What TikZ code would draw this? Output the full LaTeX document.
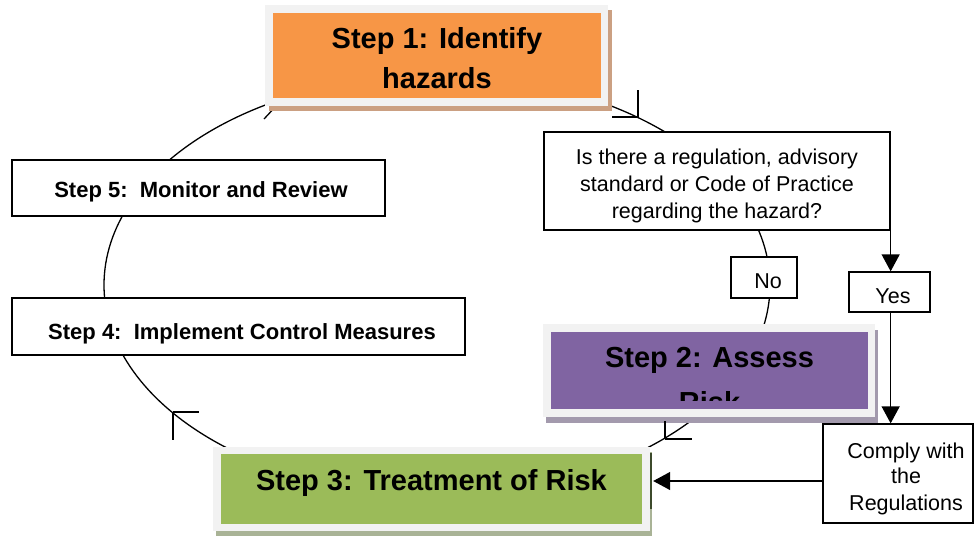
\documentclass[tikz,border=0pt]{standalone}
\usepackage{fontspec}
\setmainfont{Liberation Sans}
\usetikzlibrary{arrows.meta}

\definecolor{framegray}{HTML}{F2F2F2}
\definecolor{stepone}{HTML}{F79646}
\definecolor{steponeshade}{HTML}{CBA082}
\definecolor{steptwo}{HTML}{8064A2}
\definecolor{steptwoshade}{HTML}{A39AAD}
\definecolor{stepthree}{HTML}{9BBB59}
\definecolor{stepthreeshade}{HTML}{A9B396}
\definecolor{stepthreeedge}{HTML}{3C4A2B}

\begin{document}
\begin{tikzpicture}[x=1pt,y=-1pt,
  box/.style={draw=black,line width=1.3pt,fill=white,rectangle,inner sep=0pt},
  fillbox/.style={rectangle,inner sep=0pt,draw=none},
  bigtext/.style={font=\fontsize{29}{35}\selectfont\bfseries,anchor=base,inner sep=0pt},
  midtext/.style={font=\fontsize{22}{26}\selectfont\bfseries,anchor=base,inner sep=0pt},
  smalltext/.style={font=\fontsize{21.5}{27}\selectfont,anchor=base,inner sep=0pt},
  cyc/.style={line width=1.3pt},
  arr/.style={line width=1.3pt,-{Triangle[width=18pt,length=17pt]}},
]
\useasboundingbox (0,0) rectangle (974,536);
\fill[white] (0,0) rectangle (974,536);

% the risk management cycle
\coordinate (cc) at (437,285);
\draw[cyc] (cc) ellipse [x radius=333pt, y radius=210pt];
\coordinate (k4) at (278,104);
\draw[cyc] (k4) -- ++(-14,15);

% Step 1
\fill[steponeshade] (269,10) rectangle (612,111);
\node[fillbox,fill=framegray,minimum width=343pt,minimum height=101pt] (s1f) at (436.5,55.5) {};
\node[fillbox,fill=stepone,minimum width=328pt,minimum height=85pt] (s1) at (437,55.5) {};
\node[bigtext] (s1a) at (437,48) {Step 1: Identify};
\node[bigtext] (s1b) at (437,88) {hazards};

% Step 2
\fill[steptwoshade] (546,330) rectangle (878,423);
\node[fillbox,fill=framegray,minimum width=332pt,minimum height=93pt] (s2f) at (709,370.5) {};
\node[fillbox,fill=steptwo,minimum width=317pt,minimum height=77pt] (s2) at (709.5,370.5) {};
\begin{scope}
  \clip (551,332) rectangle (868,400);
  \node[bigtext] (s2a) at (709.5,367) {Step 2: Assess};
  \node[bigtext] (s2b) at (709.5,412) {Risk};
\end{scope}

% Step 3
\fill[stepthreeshade] (216,452) rectangle (652,536);
\node[fillbox,fill=framegray,minimum width=437pt,minimum height=84pt] (s3f) at (431.5,489) {};
\node[fillbox,fill=stepthree,minimum width=421pt,minimum height=70pt] (s3) at (431.5,489) {};
\draw[line width=1.5pt,stepthreeedge] (651,453) -- (651,509);
\node[bigtext] (s3a) at (431.5,490) {Step 3: Treatment of Risk};

% Steps 4 and 5
\node[box,minimum width=373pt,minimum height=56pt] (s5) at (198.5,188) {};
\node[midtext] (s5a) at (201,197) {Step 5:\ \ Monitor and Review};
\node[box,minimum width=453pt,minimum height=57pt] (s4) at (238.5,326.5) {};
\node[midtext] (s4a) at (242,339) {Step 4:\ \ Implement Control Measures};

% question and answers
\node[box,minimum width=346pt,minimum height=98pt] (q) at (717,181) {};
\node[smalltext] (qa) at (717,164) {Is there a regulation, advisory};
\node[smalltext] (qb) at (717,191) {standard or Code of Practice};
\node[smalltext] (qc) at (717,218) {regarding the hazard?};

\node[box,minimum width=66pt,minimum height=41pt] (no) at (764,277.5) {};
\node[smalltext] (noa) at (768,288) {No};
\node[box,minimum width=81pt,minimum height=40pt] (yes) at (889.5,292) {};
\node[smalltext] (yesa) at (893,303) {Yes};

\node[box,minimum width=150pt,minimum height=99pt] (comply) at (898,473.5) {};
\node[smalltext] (ca) at (906,458) {Comply with};
\node[smalltext] (cb) at (906,483) {the};
\node[smalltext] (cc2) at (906,510) {Regulations};

% connectors
\draw[arr] (q.east) -- (q.east |- yes.north);
\draw[arr] (yes.south -| q.east) -- (q.east |- comply.north);
\draw[arr] ([yshift=-7.5pt]comply.west) -- ([yshift=-7.5pt,xshift=3pt]comply.west -| s3f.east);

% arrow marks on the cycle
\coordinate (k1) at (638,117);
\draw[cyc] (k1) -- ++(0,-27) (k1) -- ++(-26,0);
\coordinate (k2) at (665,439);
\draw[cyc] (k2) -- ++(0,-18) (k2) -- ++(27,0);
\coordinate (k3) at (173,412);
\draw[cyc] (k3) -- ++(0,28) (k3) -- ++(26,0);
\end{tikzpicture}
\end{document}
